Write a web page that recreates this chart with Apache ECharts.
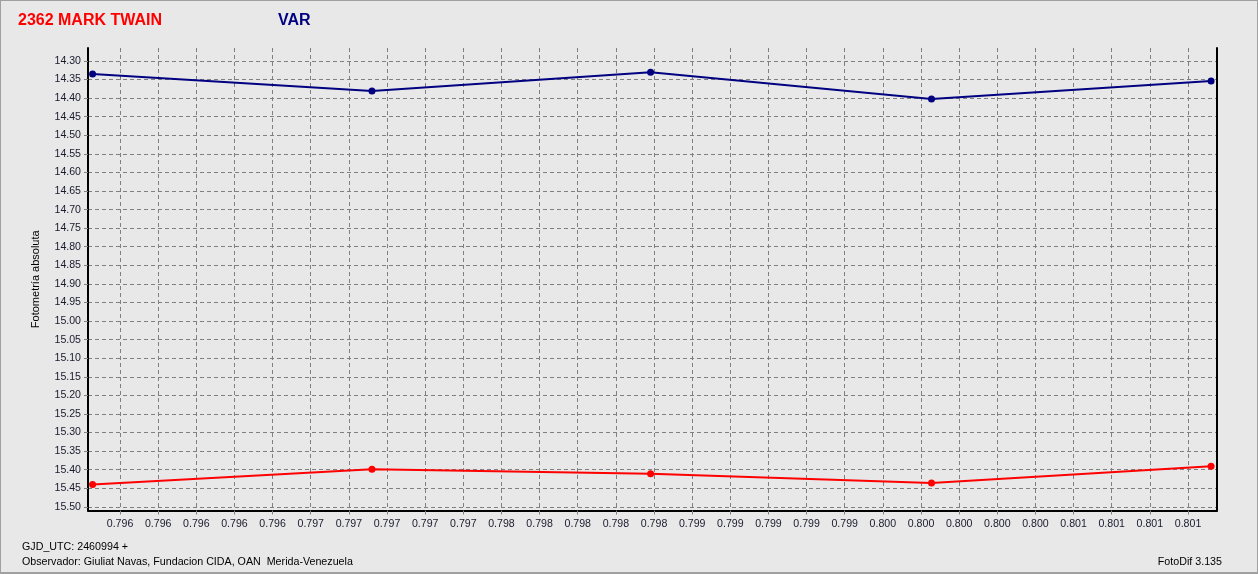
<!DOCTYPE html>
<html>
<head>
<meta charset="utf-8">
<script src="https://cdn.jsdelivr.net/npm/echarts@6/dist/echarts.min.js"></script>
<style>
html,body{margin:0;padding:0;background:#e8e8e8;}
#frame{position:absolute;left:0;top:0;width:1258px;height:574px;box-sizing:border-box;border:1px solid #a0a0a0;border-bottom:2px solid #a0a0a0;}
#chart{position:absolute;left:0;top:0;width:1258px;height:574px;}
</style>
</head>
<body>
<div id="frame"></div>
<div id="chart"></div>
<script>
// ---- data ----
const xTimes = [0.795456, 0.796921, 0.798382, 0.799855, 0.801321];
const varMag = [14.335, 14.381, 14.330, 14.402, 14.354];
const refMag = [15.440, 15.399, 15.411, 15.436, 15.391];
const xTickValues = [0.7956,0.7958,0.7960,0.7962,0.7964,0.7966,0.7968,0.7970,0.7972,0.7974,
  0.7976,0.7978,0.7980,0.7982,0.7984,0.7986,0.7988,0.7990,0.7992,0.7994,
  0.7996,0.7998,0.8000,0.8002,0.8004,0.8006,0.8008,0.8010,0.8012];
const yTickValues = [14.30,14.35,14.40,14.45,14.50,14.55,14.60,14.65,14.70,14.75,14.80,14.85,
  14.90,14.95,15.00,15.05,15.10,15.15,15.20,15.25,15.30,15.35,15.40,15.45,15.50];
const titleText = '2362 MARK TWAIN';
const seriesLabel = 'VAR';
const yAxisName = 'Fotometría absoluta';
const footer1 = 'GJD_UTC: 2460994 +';
const footer2 = 'Observador: Giuliat Navas, Fundacion CIDA, OAN  Merida-Venezuela';
const footer3 = 'FotoDif 3.135';

const xMin = 0.795432, xMax = 0.801352;
const yMin = 14.265, yMax = 15.51;

const chart = echarts.init(document.getElementById('chart'), null, {renderer:'canvas'});
const FF = 'Liberation Sans, Arial, sans-serif';
const labelFont = {fontFamily:FF, fontSize:10.6, color:'#1a1a2e'};
const gridLine = {show:true, lineStyle:{color:'#808080', type:[4,3], width:1}};
const footStyle = {color:'#000', fontSize:10.7, fontWeight:'normal', fontFamily:FF};

chart.setOption({
  animation:false,
  backgroundColor:'transparent',
  title:[
    {text:titleText, left:18, top:13, padding:0, textStyle:{color:'#ff0000', fontSize:16, fontWeight:'bold', fontFamily:FF}},
    {text:seriesLabel, left:278, top:13, padding:0, textStyle:{color:'#000080', fontSize:16, fontWeight:'bold', fontFamily:FF}},
    {text:footer1, left:22, top:542, padding:0, textStyle:footStyle},
    {text:footer2, left:22, top:557, padding:0, textStyle:footStyle},
    {text:footer3, right:36, top:557, padding:0, textStyle:footStyle}
  ],
  grid:{left:88, right:41, top:48, bottom:63.5, containLabel:false},
  xAxis:{
    type:'value', min:xMin, max:xMax,
    axisLine:{show:true, onZero:false, lineStyle:{color:'#000', width:2}},
    axisTick:{show:true, length:4, lineStyle:{color:'#808080'}, customValues:xTickValues},
    axisLabel:Object.assign({customValues:xTickValues, margin:8, formatter:v=>v.toFixed(3), showMinLabel:true, showMaxLabel:true}, labelFont),
    splitLine:gridLine
  },
  yAxis:[{
    type:'value', inverse:true, min:yMin, max:yMax,
    name:yAxisName, nameLocation:'middle', nameGap:47, nameRotate:90,
    nameTextStyle:{fontFamily:FF, fontSize:11, color:'#000'},
    axisLine:{show:true, onZero:false, lineStyle:{color:'#000', width:2}},
    axisTick:{show:true, length:4, lineStyle:{color:'#808080'}, customValues:yTickValues},
    axisLabel:Object.assign({customValues:yTickValues, margin:7, formatter:v=>v.toFixed(2)}, labelFont),
    splitLine:gridLine
  },{
    type:'value', inverse:true, min:yMin, max:yMax, position:'right',
    axisLine:{show:true, onZero:false, lineStyle:{color:'#000', width:2}},
    axisTick:{show:false}, axisLabel:{show:false}, splitLine:{show:false}
  }],
  series:[
    {type:'line', name:'VAR', yAxisIndex:0, data:xTimes.map((x,i)=>[x,varMag[i]]),
     symbol:'circle', symbolSize:7, lineStyle:{color:'#000080', width:2}, itemStyle:{color:'#000080'}},
    {type:'line', name:'REF', yAxisIndex:0, data:xTimes.map((x,i)=>[x,refMag[i]]),
     symbol:'circle', symbolSize:7, lineStyle:{color:'#ff0000', width:2}, itemStyle:{color:'#ff0000'}}
  ]
});
</script>
</body>
</html>
